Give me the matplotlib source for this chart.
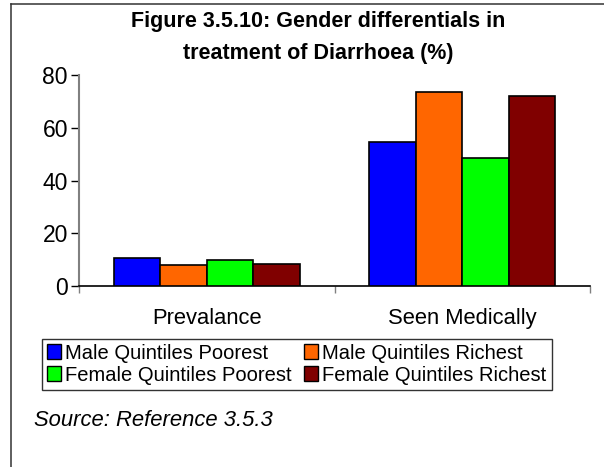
import matplotlib
matplotlib.use("Agg")
import matplotlib.pyplot as plt
from matplotlib.lines import Line2D
from matplotlib.patches import Patch
import numpy as np

categories = ["Prevalance", "Seen Medically"]
series_names = ["Male Quintiles Poorest", "Male Quintiles Richest",
                "Female Quintiles Poorest", "Female Quintiles Richest"]
male_poorest = [10.5, 54.7]
male_richest = [8.1, 73.7]
female_poorest = [9.7, 48.5]
female_richest = [8.2, 72.3]
colors = ["#0000FF", "#FF6600", "#00FF00", "#800000"]
yticks = [0, 20, 40, 60, 80]

W, H = 604, 467
plt.rcParams['font.family'] = ['Liberation Sans', 'DejaVu Sans']
fig = plt.figure(figsize=(W / 100, H / 100), dpi=100)

def fx(px):
    return px / W

def fy(py):
    return 1 - py / H

ax = fig.add_axes([fx(79), fy(286), fx(590) - fx(79), fy(75.3) - fy(286)])

values = [male_poorest, male_richest, female_poorest, female_richest]
x = np.arange(len(categories))
bw = 0.1824
for i, (vals, c, name) in enumerate(zip(values, colors, series_names)):
    ax.bar(x + (i - 1.5) * bw, vals, width=bw, color=c, edgecolor="black",
           linewidth=1.2, label=name, zorder=3)

ax.set_xlim(-0.5, len(categories) - 0.5)
ax.set_ylim(0, 80)
ax.set_yticks(yticks)
ax.set_yticklabels([str(v) for v in yticks], fontsize=16.5)
ax.tick_params(axis='y', length=6, width=1, color='black', pad=2)

ax.set_xticks(np.arange(-0.5, len(categories), 1.0))
ax.set_xticklabels([])
ax.set_xticks(x, minor=True)
ax.set_xticklabels(categories, minor=True, fontsize=15.8)
ax.tick_params(axis='x', which='major', length=5, width=1, color='#808080')
ax.tick_params(axis='x', which='minor', length=0, pad=16)

for s in ['top', 'right']:
    ax.spines[s].set_visible(False)
ax.spines['left'].set_color('#808080')
ax.spines['left'].set_linewidth(1.5)
ax.spines['bottom'].set_color('black')
ax.spines['bottom'].set_linewidth(1.2)

fig.text(fx(318), fy(22), "Figure 3.5.10: Gender differentials in",
         ha='center', va='center', fontsize=15.5, fontweight='bold')
fig.text(fx(318), fy(53), "treatment of Diarrhoea (%)",
         ha='center', va='center', fontsize=15.5, fontweight='bold')

order = [0, 2, 1, 3]
handles = [Patch(facecolor=colors[k], edgecolor='black', linewidth=1.0) for k in order]
labels = [series_names[k] for k in order]
leg = fig.legend(handles, labels, ncol=2,
                 loc='upper left', bbox_to_anchor=(fx(41.5), fy(338.5)),
                 fontsize=14.5, frameon=True, fancybox=False,
                 edgecolor='black', borderpad=0.25, labelspacing=0.15,
                 handlelength=0.7, handleheight=0.7, handletextpad=0.2,
                 columnspacing=0.65, borderaxespad=0)
leg.get_frame().set_linewidth(1.0)

fig.text(fx(34), fy(421), "Source: Reference 3.5.3", ha='left', va='center',
         fontsize=15.8, style='italic')

fig.add_artist(Line2D([fx(11), fx(11)], [fy(4), 0], color='#333333', linewidth=1.1))
fig.add_artist(Line2D([fx(11), 1], [fy(4), fy(4)], color='#333333', linewidth=1.1))

fig.savefig("out.png", dpi=100)
